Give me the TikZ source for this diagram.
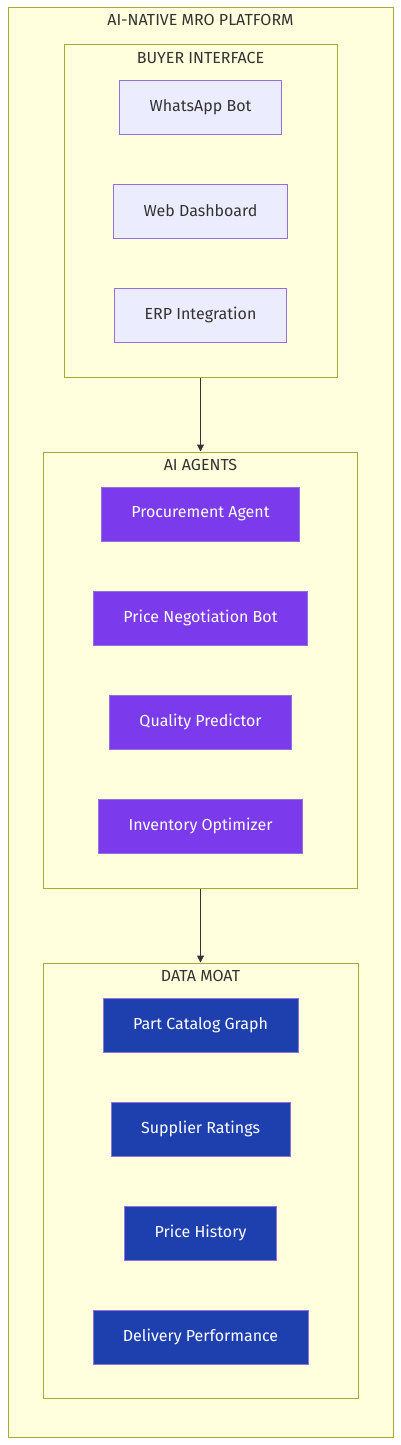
\documentclass[tikz,border=0pt]{standalone}
\usepackage{fontspec}
\setmainfont{Fira Sans}
\usetikzlibrary{arrows.meta}
\definecolor{clfill}{HTML}{FFFFDE}
\definecolor{clline}{HTML}{AAAA33}
\definecolor{ndfill}{HTML}{ECECFF}
\definecolor{ndline}{HTML}{9370DB}
\definecolor{agfill}{HTML}{7C3AED}
\definecolor{dtfill}{HTML}{1E40AF}
\definecolor{txt}{HTML}{333333}
\begin{document}
\begin{tikzpicture}[x=1pt,y=-1pt,
  cluster/.style={draw=clline,fill=clfill,line width=1pt,inner sep=0pt},
  title/.style={text=txt,font=\fontsize{16}{18}\selectfont,inner sep=0pt},
  box/.style={draw=ndline,line width=1pt,minimum height=54pt,inner sep=0pt,font=\fontsize{16}{19}\selectfont},
  uibox/.style={box,fill=ndfill,text=txt},
  agbox/.style={box,fill=agfill,text=white},
  dtbox/.style={box,fill=dtfill,text=white},
  flow/.style={draw=txt,line width=1pt,-{Triangle[length=7pt,width=7pt]}}]
  \useasboundingbox (0,0) rectangle (401,1445);
  % Outer platform
  \node[cluster,minimum width=385pt,minimum height=1429pt] (platform) at (200.5,722.5) {};
  \node[title] (tplatform) at (200.5,20) {AI-NATIVE MRO PLATFORM};
  % Buyer interface
  \node[cluster,minimum width=273pt,minimum height=332pt] (buyer) at (200.5,211) {};
  \node[title] (tbuyer) at (200.5,58) {BUYER INTERFACE};
  \node[uibox,minimum width=162pt] (whatsapp) at (200.5,107) {WhatsApp Bot};
  \node[uibox,minimum width=174pt] (web) at (200.5,211) {Web Dashboard};
  \node[uibox,minimum width=172pt] (erp) at (200.5,315) {ERP Integration};
  % AI agents
  \node[cluster,minimum width=314pt,minimum height=436pt] (agents) at (200.5,670) {};
  \node[title] (tagents) at (200.5,465) {AI AGENTS};
  \node[agbox,minimum width=198pt] (procure) at (200.5,514) {Procurement Agent};
  \node[agbox,minimum width=214pt] (nego) at (200.5,618) {Price Negotiation Bot};
  \node[agbox,minimum width=182pt] (quality) at (200.5,722) {Quality Predictor};
  \node[agbox,minimum width=204pt] (inventory) at (200.5,826) {Inventory Optimizer};
  % Data moat
  \node[cluster,minimum width=315pt,minimum height=435pt] (moat) at (200.5,1180.5) {};
  \node[title] (tmoat) at (200.5,976) {DATA MOAT};
  \node[dtbox,minimum width=195pt] (catalog) at (200.5,1025) {Part Catalog Graph};
  \node[dtbox,minimum width=179pt] (ratings) at (200.5,1129) {Supplier Ratings};
  \node[dtbox,minimum width=152pt] (history) at (200.5,1233) {Price History};
  \node[dtbox,minimum width=215pt] (delivery) at (200.5,1337) {Delivery Performance};
  % Flow between layers
  \draw[flow] (buyer.south) -- (agents.north);
  \draw[flow] (agents.south) -- (moat.north);
\end{tikzpicture}
\end{document}
